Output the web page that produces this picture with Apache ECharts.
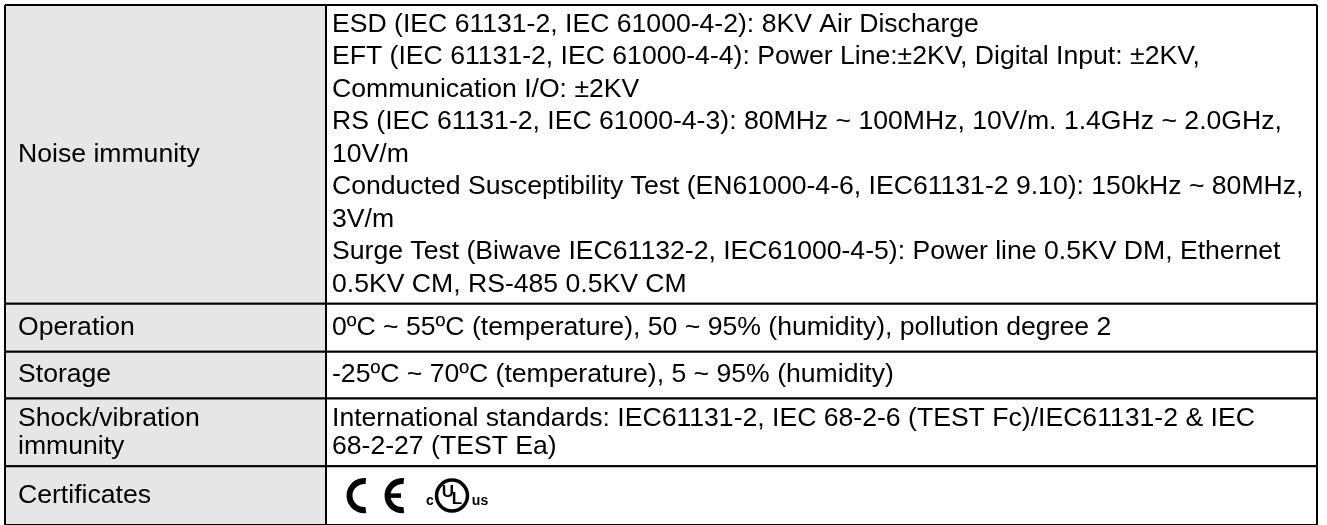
<!DOCTYPE html>
<html>
<head>
<meta charset="utf-8">
<script src="https://cdn.jsdelivr.net/npm/echarts@6/dist/echarts.min.js"></script>
<style>
	html, body { margin: 0; padding: 0; background: #ffffff; }
	#main { width: 1327px; height: 525px; }
</style>
</head>
<body>
<div id="main"></div>
<script>
	// row titles (left column)
	const rowLabels = ['Noise immunity', 'Operation', 'Storage', 'Shock/vibration\nimmunity', 'Certificates']
	// right column text, one entry per printed line
	const rowDetails = [
		[
			'ESD (IEC 61131-2, IEC 61000-4-2): 8KV Air Discharge',
			'EFT (IEC 61131-2, IEC 61000-4-4): Power Line:±2KV, Digital Input: ±2KV,',
			'Communication I/O: ±2KV',
			'RS (IEC 61131-2, IEC 61000-4-3): 80MHz ~ 100MHz, 10V/m. 1.4GHz ~ 2.0GHz,',
			'10V/m',
			'Conducted Susceptibility Test (EN61000-4-6, IEC61131-2 9.10): 150kHz ~ 80MHz,',
			'3V/m',
			'Surge Test (Biwave IEC61132-2, IEC61000-4-5): Power line 0.5KV DM, Ethernet',
			'0.5KV CM, RS-485 0.5KV CM'
		],
		['0ºC ~ 55ºC (temperature), 50 ~ 95% (humidity), pollution degree 2'],
		['-25ºC ~ 70ºC (temperature), 5 ~ 95% (humidity)'],
		[
			'International standards: IEC61131-2, IEC 68-2-6 (TEST Fc)/IEC61131-2 & IEC',
			'68-2-27 (TEST Ea)'
		],
		[]
	]
	// certificate marks shown in the last row
	const certMarks = ['CE', 'cULus']

	// table layout (axis units = px inside the grid)
	const colEdges = [0, 321, 1312]
	const rowEdges = [0, 300, 348, 395, 463, 522]
	const rowLineH = [32.5, 32.5, 32.5, 28, 32.5]

	const fontFamily = '"Liberation Sans", Arial, sans-serif'
	const fontSize = 26.6

	function drawMarks(api, x0, cy) {
		let items = []
		certMarks.forEach(function (m) {
			if (m === 'CE') {
				let c1 = api.coord([x0 + 38, 0])[0]
				let c2 = api.coord([x0 + 76, 0])[0]
				let arc = { startAngle: Math.PI * 0.46, endAngle: Math.PI * 1.54, clockwise: true }
				items.push({
					type: 'arc',
					shape: Object.assign({ cx: c1, cy: cy, r: 14.5 }, arc),
					style: { stroke: '#000', fill: null, lineWidth: 6 }
				})
				items.push({
					type: 'arc',
					shape: Object.assign({ cx: c2, cy: cy, r: 14.5 }, arc),
					style: { stroke: '#000', fill: null, lineWidth: 6 }
				})
				items.push({
					type: 'line',
					shape: { x1: c2 - 15, y1: cy, x2: c2 - 1, y2: cy },
					style: { stroke: '#000', lineWidth: 4.5 }
				})
			} else {
				let cc = api.coord([x0 + 126, 0])[0]
				items.push({
					type: 'circle',
					shape: { cx: cc, cy: cy, r: 15.5 },
					style: { stroke: '#000', fill: null, lineWidth: 3.5 }
				})
				let t = function (s, dx, dy, size) {
					return { type: 'text', style: { text: s, x: cc + dx, y: cy + dy, fill: '#000', fontSize: size, fontWeight: 'bold', fontFamily: fontFamily, align: 'center', verticalAlign: 'middle' } }
				}
				items.push(t('c', -22, 6, 14))
				items.push(t('U', -4, -3, 17))
				items.push(t('L', 5, 4, 17))
				items.push(t('us', 28, 6, 14))
			}
		})
		return items
	}

	function renderRow(params, api) {
		let i = api.value(0)
		let tl = api.coord([colEdges[0], rowEdges[i]])
		let mid = api.coord([colEdges[1], rowEdges[i + 1]])
		let br = api.coord([colEdges[2], rowEdges[i + 1]])
		let cy = (tl[1] + br[1]) / 2
		let children = [
			{ type: 'rect', shape: { x: tl[0], y: tl[1], width: mid[0] - tl[0], height: br[1] - tl[1] }, style: { fill: '#e6e6e6' } },
			{ type: 'rect', shape: { x: mid[0], y: tl[1], width: br[0] - mid[0], height: br[1] - tl[1] }, style: { fill: '#ffffff' } },
			{
				type: 'text',
				style: {
					text: rowLabels[i], x: tl[0] + 13, y: cy, fill: '#000',
					fontSize: fontSize, fontFamily: fontFamily, lineHeight: rowLineH[i],
					align: 'left', verticalAlign: 'middle'
				}
			}
		]
		if (rowDetails[i].length) {
			children.push({
				type: 'text',
				style: {
					text: rowDetails[i].join('\n'), x: mid[0] + 6, y: cy, fill: '#000',
					fontSize: fontSize, fontFamily: fontFamily, lineHeight: rowLineH[i],
					align: 'left', verticalAlign: 'middle'
				}
			})
		} else {
			children = children.concat(drawMarks(api, colEdges[1], cy))
		}
		// cell borders
		let edge = function (x1, y1, x2, y2) {
			return { type: 'line', shape: { x1: x1, y1: y1, x2: x2, y2: y2 }, style: { stroke: '#000', lineWidth: 2 } }
		}
		children.push(edge(tl[0], tl[1], br[0], tl[1]))
		children.push(edge(tl[0], br[1], br[0], br[1]))
		children.push(edge(tl[0], tl[1], tl[0], br[1]))
		children.push(edge(mid[0], tl[1], mid[0], br[1]))
		children.push(edge(br[0], tl[1], br[0], br[1]))
		return { type: 'group', children: children }
	}

	let myChart = echarts.init(document.getElementById('main'))
	let option = {
		animation: false,
		backgroundColor: '#ffffff',
		grid: { left: 5, top: 5, width: 1312, height: 522 },
		xAxis: { type: 'value', min: colEdges[0], max: colEdges[2], show: false },
		yAxis: { type: 'value', min: rowEdges[0], max: rowEdges[rowEdges.length - 1], inverse: true, show: false },
		series: [
			{
				type: 'custom',
				renderItem: renderRow,
				clip: false,
				data: rowLabels.map(function (l, i) { return [i] })
			}
		]
	}
	myChart.setOption(option)
</script>
</body>
</html>
